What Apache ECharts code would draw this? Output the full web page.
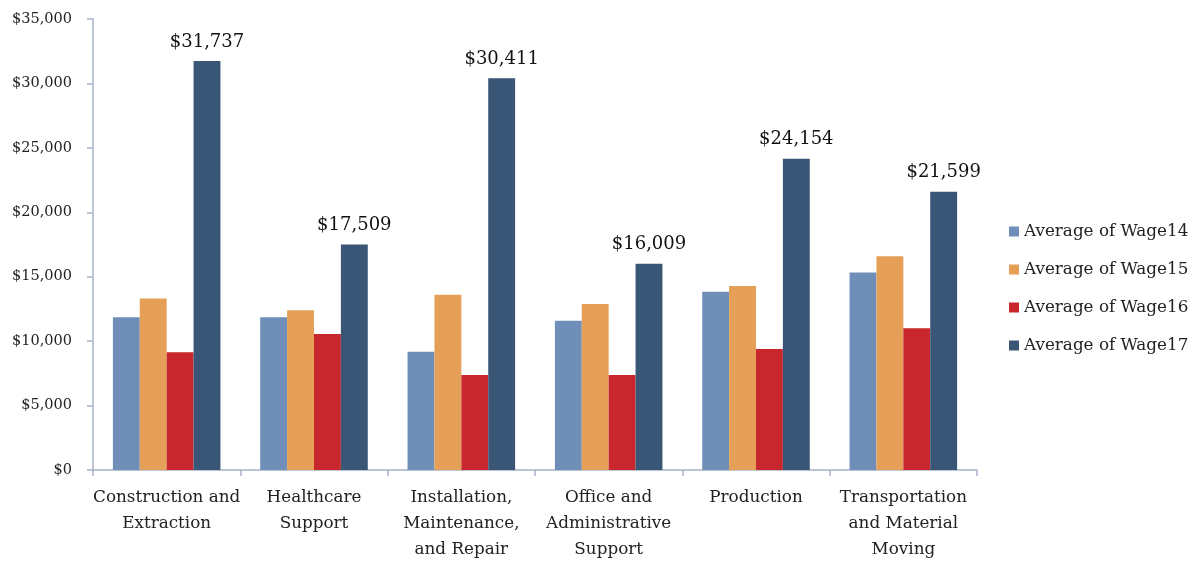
<!DOCTYPE html>
<html>
<head>
<meta charset="utf-8">
<script src="https://cdn.jsdelivr.net/npm/echarts@6/dist/echarts.min.js"></script>
<style>
html,body{margin:0;padding:0;background:#fff;}
#chart{width:1197px;height:563px;}
</style>
</head>
<body>
<div id="chart"></div>
<script>
const categories = [
  "Construction and\nExtraction",
  "Healthcare\nSupport",
  "Installation,\nMaintenance,\nand Repair",
  "Office and\nAdministrative\nSupport",
  "Production",
  "Transportation\nand Material\nMoving"
];
const seriesNames = ["Average of Wage14", "Average of Wage15", "Average of Wage16", "Average of Wage17"];
const wage14 = [11860, 11860, 9180, 11580, 13840, 15330];
const wage15 = [13300, 12400, 13600, 12890, 14275, 16590];
const wage16 = [9135, 10550, 7380, 7380, 9390, 11010];
const wage17 = [31737, 17509, 30411, 16009, 24154, 21599];
const yTicks = { min: 0, max: 35000, interval: 5000 };

const colors = ["#6F8FB9", "#E59F57", "#C8282D", "#3A5676"];
const FONT = "DejaVu Serif";
const fmt = v => "$" + Math.round(v).toLocaleString("en-US");

const chart = echarts.init(document.getElementById("chart"));
const dataSets = [wage14, wage15, wage16, wage17];
chart.setOption({
  animation: false,
  textStyle: { fontFamily: FONT },
  grid: { left: 93, right: 220, top: 19, bottom: 90 },
  legend: {
    orient: "vertical",
    left: 1004,
    top: 218,
    itemWidth: 10,
    itemHeight: 10,
    itemGap: 21,
    icon: "rect",
    textStyle: { fontFamily: FONT, fontSize: 16.8, color: "#222" },
    data: seriesNames
  },
  xAxis: {
    type: "category",
    data: categories,
    axisLine: { lineStyle: { color: "#A5B3C8", width: 1.5 } },
    axisTick: { show: true, length: 6, lineStyle: { color: "#A5B3C8", width: 1.5 } },
    axisLabel: { fontFamily: FONT, fontSize: 16.8, color: "#222", lineHeight: 26, margin: 15, interval: 0 }
  },
  yAxis: {
    type: "value",
    min: yTicks.min,
    max: yTicks.max,
    interval: yTicks.interval,
    splitLine: { show: false },
    axisLine: { show: true, lineStyle: { color: "#A5B3C8", width: 1.5 } },
    axisTick: { show: true, length: 6, lineStyle: { color: "#A5B3C8", width: 1.5 } },
    axisLabel: { fontFamily: FONT, fontSize: 14.5, color: "#222", margin: 21, formatter: fmt }
  },
  series: dataSets.map((d, i) => ({
    name: seriesNames[i],
    type: "bar",
    data: d,
    barGap: "0%",
    barCategoryGap: "27%",
    itemStyle: { color: colors[i] },
    label: i === 3 ? {
      show: true,
      position: "top",
      distance: 10,
      fontFamily: FONT,
      fontSize: 18,
      color: "#111",
      formatter: p => fmt(p.value)
    } : { show: false }
  }))
});
</script>
</body>
</html>
